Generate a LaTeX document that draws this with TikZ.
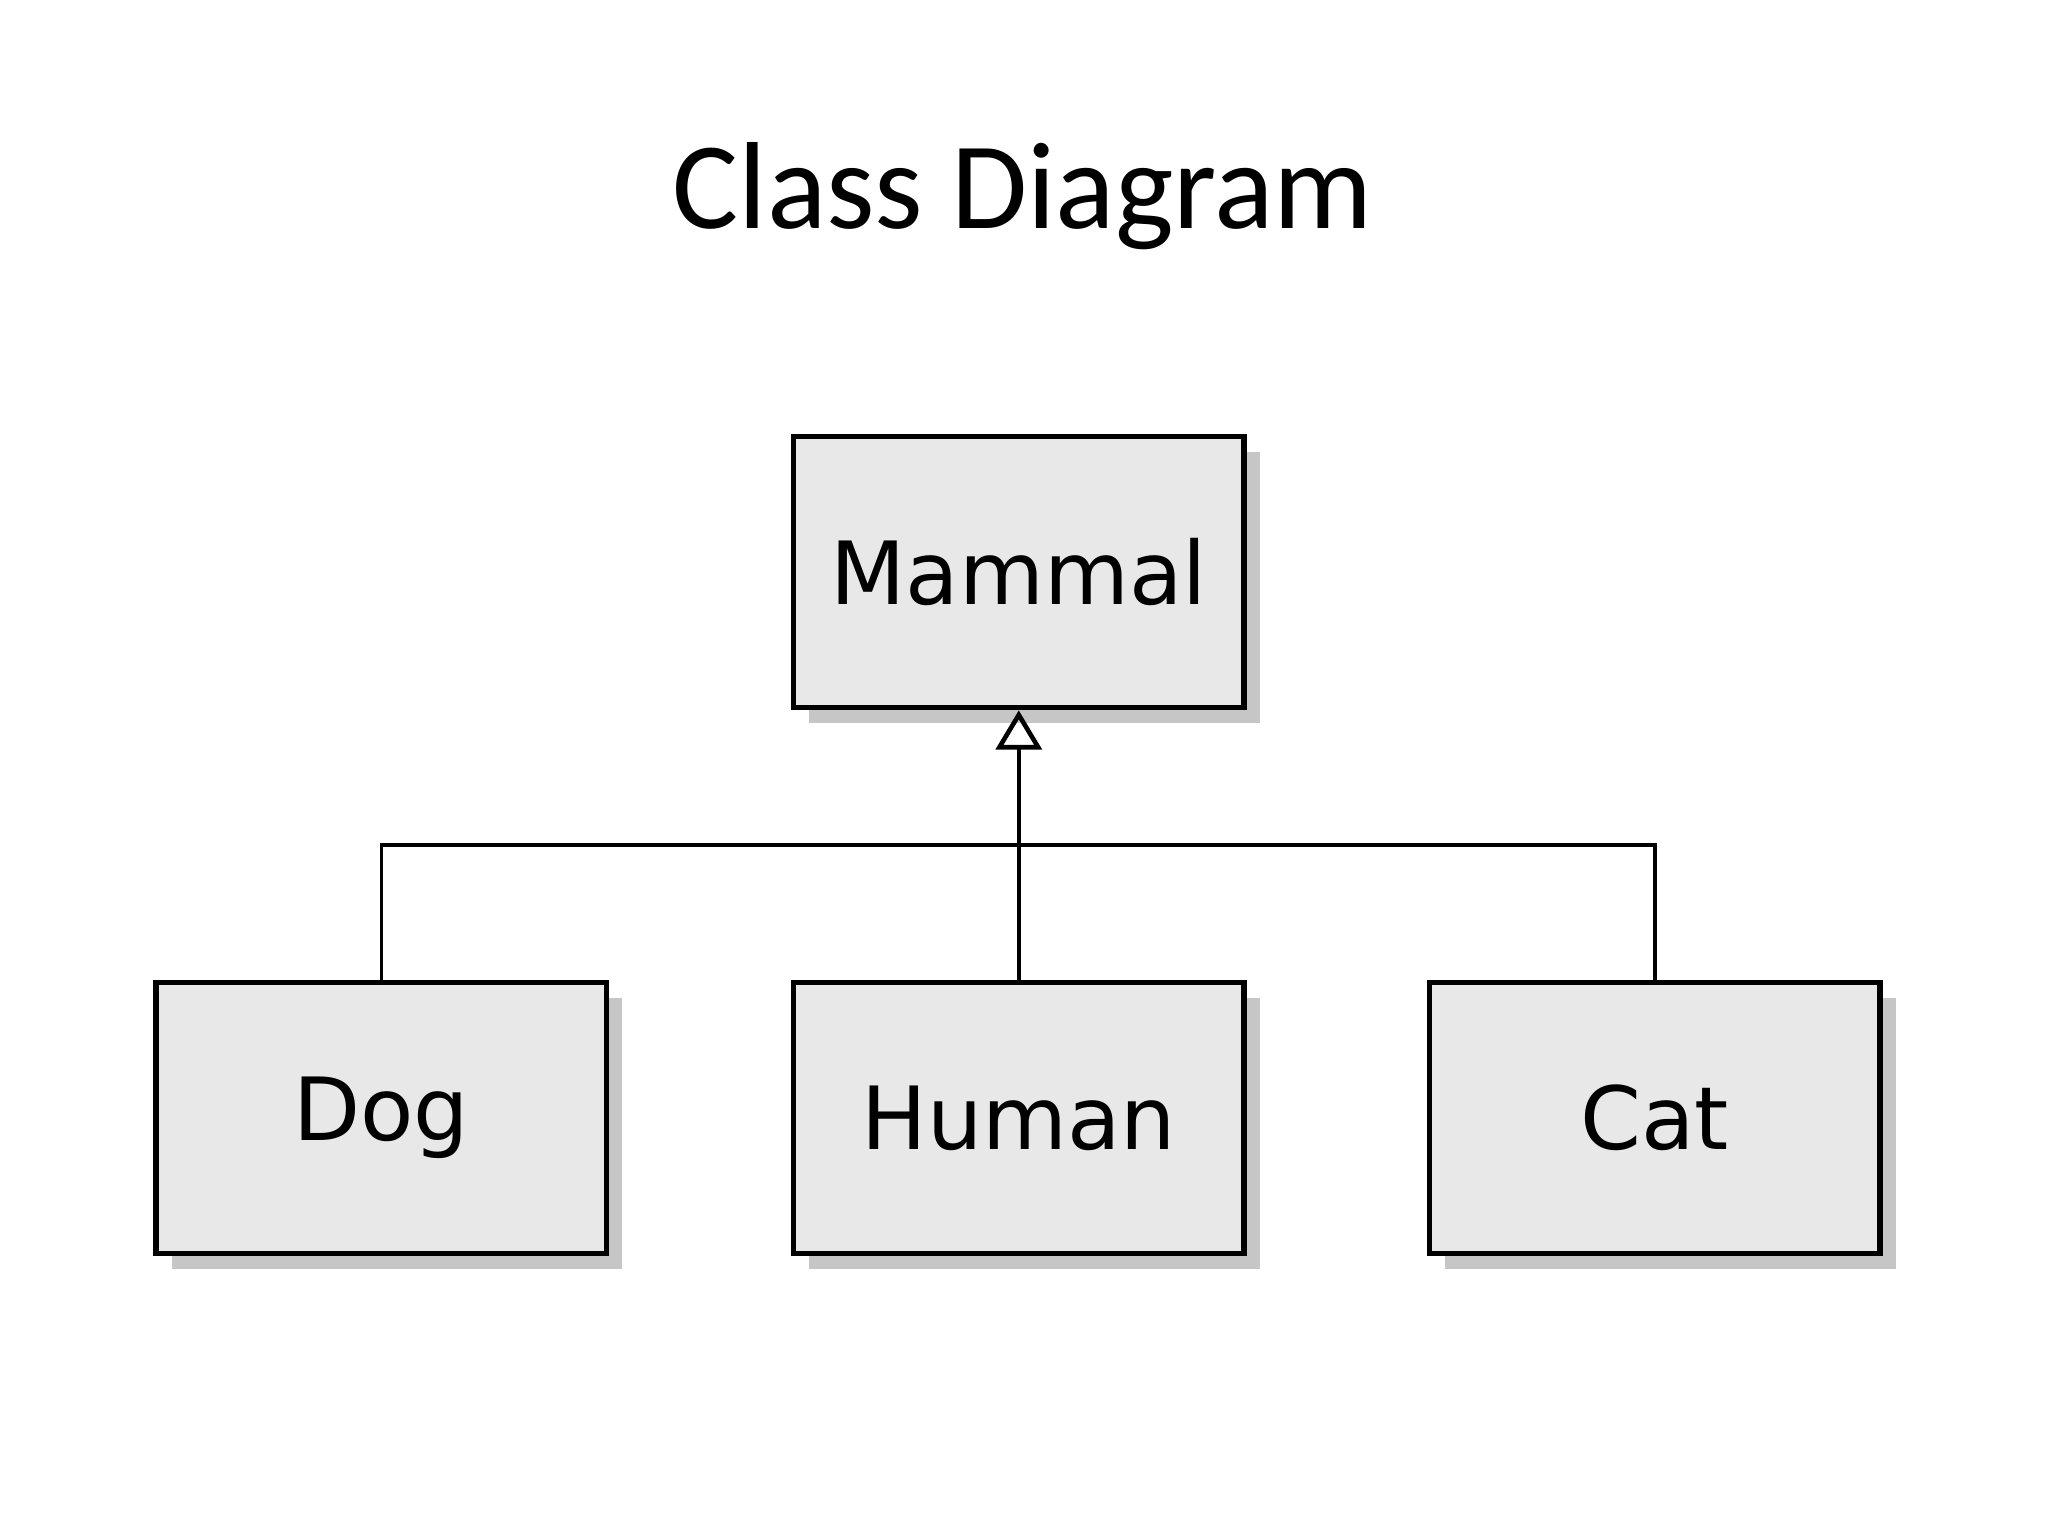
\documentclass[tikz,border=0pt]{standalone}
\usepackage{fontspec}
\usetikzlibrary{arrows.meta,shadows}
\newfontfamily\titlefont{Carlito}
\newfontfamily\boxfont{DejaVu Sans}
\begin{document}
\begin{tikzpicture}[x=0.02cm,y=-0.02cm,
  cls/.style={draw=black,line width=2.4pt,fill=gray!18,minimum width=6.9cm,minimum height=4.15cm,
    font=\boxfont\fontsize{38}{44}\selectfont,
    drop shadow={shadow xshift=0.24cm,shadow yshift=-0.24cm,fill=gray!45,opacity=1}},
  conn/.style={line width=1.5pt}]
\useasboundingbox (0,0) rectangle (1568,1176);
\node[font=\titlefont\fontsize{54}{62}\selectfont] (title) at (783,150) {Class Diagram};
\node[cls] (mammal) at (780,438) {Mammal};
\node[cls] (dog) at (292,856) {Dog};
\node[cls] (human) at (780,856) {Human};
\node[cls] (cat) at (1267,856) {Cat};
\coordinate (j) at (780,647);
\draw[conn,-{Triangle[open,length=0.6cm,width=0.7cm,line width=2pt]}] (human.north) -- (mammal.south);
\draw[conn] (dog.north) |- (j) -| (cat.north);
\end{tikzpicture}
\end{document}
